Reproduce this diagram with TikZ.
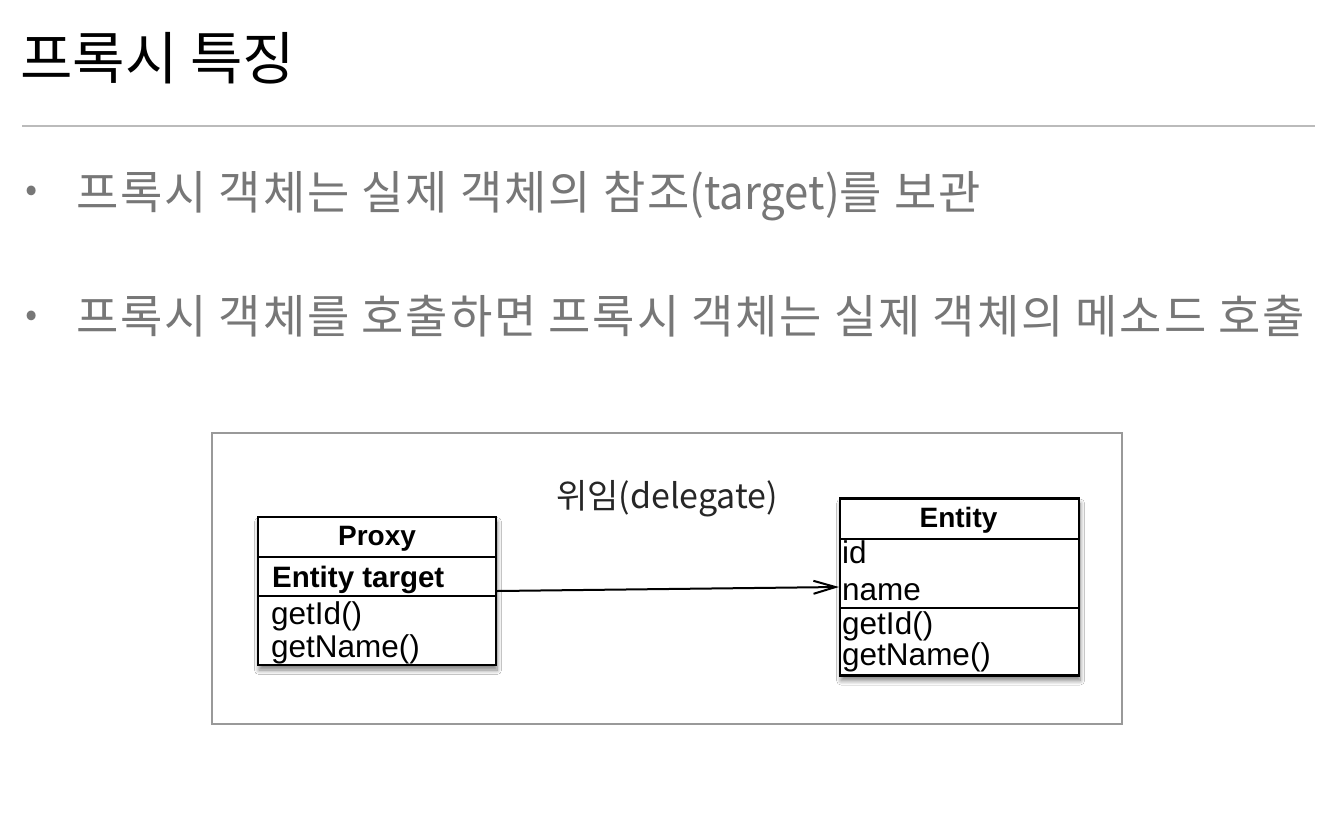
\documentclass[tikz,border=0pt]{standalone}
\usepackage{fontspec}
\setmainfont{Liberation Sans}
\newfontfamily\kr{Noto Sans CJK KR}
\newfontfamily\krwide[LetterSpace=4]{Noto Sans CJK KR}
\newfontfamily\krnarrow[FakeStretch=0.95]{Noto Sans CJK KR}
\usetikzlibrary{arrows.meta,shadows.blur}
\definecolor{bulletgray}{HTML}{777777}
\definecolor{rulegray}{HTML}{BBBBBB}
\definecolor{framegray}{HTML}{999999}
\tikzset{
  umlbox/.style={draw=black, line width=2.2pt, fill=white, inner sep=0pt,
    blur shadow={shadow xshift=1pt, shadow yshift=-5pt, shadow blur radius=4.5pt, shadow blur steps=8, shadow opacity=50}},
  divider/.style={line width=2pt},
  boxtxt/.style={inner sep=0pt, anchor=base west, font=\fontsize{31.5}{36}\selectfont},
  boxhead/.style={inner sep=0pt, anchor=base, font=\fontsize{28}{34}\selectfont\bfseries},
  bullettxt/.style={inner sep=0pt, anchor=base west, text=bulletgray, font=\krwide\fontsize{46}{54}\selectfont},
  bulletdot/.style={inner sep=0pt, anchor=base, text=bulletgray, font=\kr\fontsize{36}{40}\selectfont},
}
\begin{document}
\begin{tikzpicture}[x=1pt,y=-1pt]
\useasboundingbox (0,0) rectangle (1338,830);
\fill[white] (0,0) rectangle (1338,830);
% title
\node[inner sep=0pt, anchor=base west, font=\kr\fontsize{57}{68}\selectfont] (title) at (20,79) {프록시 특징};
\coordinate (ruleL) at (22,126);
\coordinate (ruleR) at (1315,126);
\draw[rulegray, line width=1.5pt] (ruleL) -- (ruleR);
% bullets
\node[bulletdot] (b1) at (32,201) {•};
\node[bullettxt] (t1) at (76,209) {프록시 객체는 실제 객체의 참조{\krnarrow (target)}를 보관};
\node[bulletdot] (b2) at (32,326) {•};
\node[bullettxt] (t2) at (76,333) {프록시 객체를 호출하면 프록시 객체는 실제 객체의 메소드 호출};
% frame
\node[draw=framegray, line width=1.2pt, fill=white, minimum width=910pt, minimum height=291pt, inner sep=0pt] (frame) at (667,578.5) {};
% proxy box
\node[umlbox, minimum width=238pt, minimum height=148pt] (proxy) at (377,591) {};
\draw[divider] (258,556.5) -- (496,556.5);
\draw[divider] (258,595.5) -- (496,595.5);
\node[boxhead] (pname) at (377,545) {Proxy};
\node[boxtxt, font=\fontsize{29.5}{36}\selectfont\bfseries] (pattr) at (272,587) {Entity target};
\node[boxtxt] (pm1) at (271,624) {getId()};
\node[boxtxt] (pm2) at (271,657) {getName()};
% entity box
\node[umlbox, minimum width=239pt, minimum height=177pt] (entity) at (839,587) [anchor=west] {};
\draw[divider] (839,538.5) -- (1078,538.5);
\draw[divider] (839,607.5) -- (1078,607.5);
\node[boxhead] (ename) at (958.5,527) {Entity};
\node[boxtxt] (ea1) at (842,563) {id};
\node[boxtxt] (ea2) at (842,600) {name};
\node[boxtxt] (em1) at (842,634) {getId()};
\node[boxtxt] (em2) at (842,665) {getName()};
% arrow
\draw[line width=2pt, -{Straight Barb[length=22pt,width=13pt,line width=2pt]}] (proxy.east) -- (entity.west);
\node[inner sep=0pt, anchor=base, font=\kr\fontsize{34}{40}\selectfont, text=black!85] (lbl) at (667,508) {위임(delegate)};
\end{tikzpicture}
\end{document}
